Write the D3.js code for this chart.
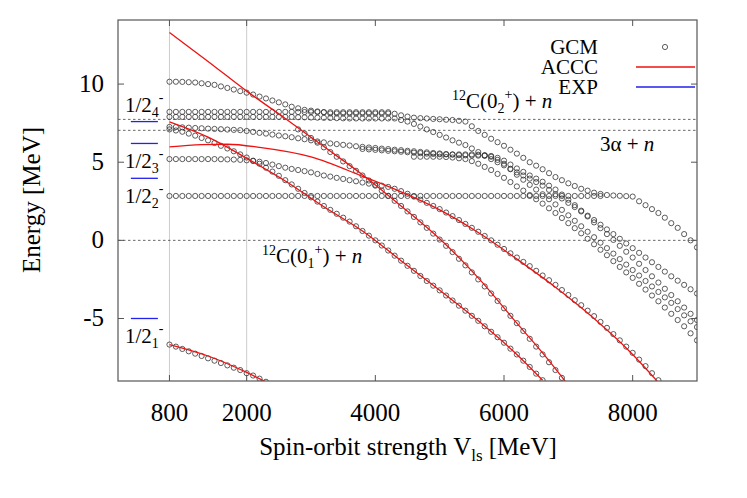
<!DOCTYPE html>
<html><head><meta charset="utf-8">
<script src="https://cdn.jsdelivr.net/npm/d3@7"></script>
<style>body{margin:0;background:#fff}text{font-family:"Liberation Serif","Times New Roman","DejaVu Serif",serif}</style>
</head><body><svg id="c" width="747" height="498" font-family="Liberation Serif, Times New Roman, serif"></svg>
<script>
// ---- data ----
const xTicks=[800,2000,4000,6000,8000];
const yTicks=[-5,0,5,10];
const thresholds=[0,7.04,7.74];
const expLevels=[{e:-5.0,lab:"1",pos:"below"},{e:3.97,lab:"2",pos:"below"},{e:6.2,lab:"3",pos:"below"},{e:7.6,lab:"4",pos:"above"}];
// ACCC knots [V, E]
const acccA=[[800,13.3],[1400,11.45],[2000,9.55],[2600,7.8],[3200,6.0],[3800,4.2],[4400,2.2],[5000,0.1],[5600,-2.4],[6200,-5.3],[6600,-7.2],[6950,-9]];
const acccB=[[800,5.98],[1300,6.12],[1700,6.15],[2200,5.95],[3000,5.34],[3800,4.1],[4400,3.1],[5000,1.95],[5600,0.5],[6200,-1.2],[6800,-3.0],[7400,-5.0],[8000,-7.3],[8380,-9]];
const acccC=[[800,7.58],[1400,6.6],[2000,5.25],[2600,3.8],[3200,2.15],[3800,0.6],[4400,-1.3],[5000,-3.2],[5600,-5.15],[6200,-7.3],[6600,-8.95]];
const acccD=[[800,-6.67],[1400,-7.4],[2000,-8.45],[2320,-9.1]];
// GCM levels, step 100 MeV from given start
const gcmD={start:800,e:[-6.67,-6.8,-6.95,-7.1,-7.25,-7.4,-7.55,-7.7,-7.85,-8.0,-8.15,-8.3,-8.5,-8.65,-8.85,-9.05]};
const gcmC={start:800,e:[7.1,7.03,6.95,6.83,6.7,6.55,6.4,6.23,6.05,5.88,5.7,5.5,5.3,5.1,4.9,4.65,4.4,4.13,3.85,3.58,3.3,3.03,2.75,2.48,2.2,1.95,1.7,1.45,1.2,0.9,0.6,0.3,0.0,-0.33,-0.65,-0.98,-1.3,-1.63,-1.95,-2.28,-2.6,-2.9,-3.2,-3.53,-3.85,-4.18,-4.5,-4.83,-5.15,-5.5,-5.85,-6.2,-6.55,-6.93,-7.3,-7.7,-8.1,-8.53,-8.95]};
const gcmA={start:2800,e:[7.1,6.83,6.55,6.25,5.95,5.65,5.35,5.05,4.75,4.45,4.15,3.83,3.5,3.18,2.85,2.53,2.2,1.85,1.5,1.15,0.8,0.43,0.05,-0.35,-0.75,-1.18,-1.6,-2.05,-2.5,-2.95,-3.4,-3.88,-4.35,-4.83,-5.3,-5.8,-6.3,-6.8,-7.3,-7.8,-8.3,-8.8]};
const gcmB={start:800,e:[5.2,5.2,5.2,5.2,5.2,5.2,5.2,5.2,5.19,5.18,5.17,5.15,5.12,5.08,5.03,4.95,4.85,4.75,4.65,4.57,4.5,4.43,4.35,4.25,4.15,4.08,4.0,3.93,3.85,3.78,3.7,3.63,3.55,3.5,3.42,3.3,3.15,2.98,2.8,2.6,2.4,2.2,2.0,1.78,1.55,1.3,1.05,0.8,0.55,0.28,0.0,-0.28,-0.55,-0.83,-1.1,-1.38,-1.65,-1.95,-2.25,-2.55,-2.85,-3.18,-3.5,-3.83,-4.15,-4.5,-4.85,-5.22,-5.6,-6.0,-6.4,-6.8,-7.2,-7.63,-8.05,-8.5,-8.95]};
const gcmRow={start:800,e:[2.84,2.84,2.84,2.84,2.84,2.84,2.84,2.84,2.84,2.84,2.84,2.84,2.84,2.84,2.84,2.84,2.84,2.84,2.84,2.84,2.84,2.84,2.84,2.84,2.84,2.84,2.84,2.84,2.84,2.84,2.84,2.84,2.84,2.84,2.84,2.84,2.84,2.84,2.84,2.84,2.84,2.84,2.84,2.84,2.84,2.84,2.84,2.84,2.84,2.84,2.84,2.84,2.84,2.84,2.84,2.84,2.84,2.84,2.84,2.84,2.84,2.84,2.84,2.84,2.84,2.84,2.84,2.84]};
const gcmE1={start:800,e:[8.22,8.22,8.22,8.22,8.22,8.22,8.22,8.22,8.22,8.22,8.22,8.22,8.22,8.22,8.22,8.22,8.22,8.22,8.22,8.22,8.21,8.21,8.21,8.21,8.2,8.2,8.2,8.2,8.2,8.2,8.2,8.2,8.2,8.2,8.2,8.1,8.0,7.92,7.85,7.82,7.8,7.77,7.75,7.72,7.7,7.65,7.6,7.3,7.0,6.75,6.5,6.28,6.05,5.8,5.55,5.28,5.0,4.78,4.55,4.3,4.05,3.85,3.65,3.48,3.3,3.18,3.05,2.97,2.9,2.87,2.85,2.83,2.8,2.5,2.25,2.0,1.75,1.45,1.1,0.8,0.4,0.0,-0.45]};
const gcmT={start:800,e:[10.15,10.15,10.14,10.12,10.1,10.05,10.0,9.95,9.85,9.75,9.65,9.55,9.45,9.33,9.2,9.08,8.95,8.83,8.7,8.55,8.45,8.35,8.3,8.25,8.2,8.12,8.12,8.12,8.12,8.12,8.12,8.12,8.12,8.12,8.12]};
const gcmT2={start:800,e:[7.9,7.9,7.9,7.9,7.9,7.9,7.9,7.9,7.9,7.9,7.9,7.9,7.9,7.9,7.9,7.9,7.9,7.9,7.9,7.9,7.88,7.87,7.86,7.85,7.84,7.83,7.82,7.81,7.8,7.8,7.8,7.8,7.8,7.8,7.8,7.8,7.7,7.6,7.45,7.28,7.1,6.93,6.75,6.58,6.4,6.25,6.1,5.88,5.65,5.43,5.2,5.0,4.8,4.58,4.35,4.15,3.95,3.73,3.5,3.23,2.95,2.68,2.4,2.13,1.85,1.58,1.3,1.0,0.7,0.4,0.1,-0.2,-0.5,-0.8,-1.1,-1.4,-1.7,-2.0,-2.3,-2.58,-2.85,-3.13,-3.4]};
const gcmS={start:800,e:[7.26,7.25,7.23,7.21,7.19,7.17,7.15,7.13,7.11,7.09,7.07,7.05,7.0,6.94,6.88,6.83,6.77,6.71,6.66,6.6,6.53,6.47,6.4,6.33,6.27,6.2,6.16,6.11,6.07,6.02,5.98,5.94,5.91,5.87,5.84,5.8,5.77,5.73,5.7,5.66,5.63,5.59,5.56,5.52,5.49,5.45,5.44,5.43,5.42,5.41,5.4,5.28,5.1,4.85,4.6,4.38,4.15,3.95,3.75,3.5,3.25,2.93,2.6,2.25,1.9,1.53,1.15,0.78,0.4,0.03,-0.35,-0.73,-1.1,-1.5,-1.9,-2.3,-2.7,-3.1,-3.5,-3.9,-4.3,-4.7,-5.1]};
const gcmL2={start:3800,e:[5.85,5.82,5.79,5.76,5.73,5.7,5.67,5.64,5.61,5.58,5.55,5.53,5.51,5.5,5.5,5.5,5.5,5.5,5.48,5.45,5.35,5.15,4.9,4.55,4.2,3.88,3.55,3.25,2.95,2.63,2.3,1.95,1.6,1.25,0.9,0.55,0.2,-0.15,-0.5,-0.85,-1.2,-1.55,-1.9,-2.25,-2.6,-2.95,-3.3,-3.65,-4.0,-4.4,-4.8,-5.18,-5.55]};
const gcmL1={start:4600,e:[5.35,5.35,5.35,5.35,5.35,5.33,5.3,5.25,5.2,5.07,4.9,4.7,4.5,4.25,4.0,3.73,3.45,3.18,2.9,2.63,2.35,2.05,1.75,1.43,1.1,0.78,0.45,0.1,-0.25,-0.6,-0.95,-1.33,-1.7,-2.05,-2.4,-2.78,-3.15,-3.53,-3.9,-4.3,-4.7,-5.1,-5.5,-5.95,-6.4]};
const gcmSeries=[gcmD,gcmC,gcmA,gcmB,gcmRow,gcmE1,gcmT,gcmT2,gcmS,gcmL2,gcmL1];

// ---- drawing ----
const svg=d3.select("#c");
const L=118,R=697,T=20,B=381;
const x=d3.scaleLinear().domain([0,9000]).range([L,R]);
const y=d3.scaleLinear().domain([-9,14.1]).range([B,T]);
svg.append("defs").append("clipPath").attr("id","clp").append("rect").attr("x",L).attr("y",T).attr("width",R-L).attr("height",B-T);
svg.selectAll(".g").data([800,2000]).enter().append("line").attr("x1",d=>x(d)).attr("x2",d=>x(d)).attr("y1",T).attr("y2",B).attr("stroke","#ccc").attr("stroke-width",1);
svg.selectAll(".th").data(thresholds).enter().append("line").attr("x1",L).attr("x2",R).attr("y1",d=>y(d)).attr("y2",d=>y(d)).attr("stroke","#444").attr("stroke-width",0.8).attr("stroke-dasharray","2.5,2.5");
const g=svg.append("g").attr("clip-path","url(#clp)");
gcmSeries.forEach(s=>{
  const pts=s.e.map((e,i)=>[s.start+100*i,e]).filter(p=>p[1]>=-9.15);
  g.selectAll(null).data(pts).enter().append("circle").attr("cx",d=>x(d[0])).attr("cy",d=>y(d[1])).attr("r",2.6).attr("fill","none").attr("stroke","#333").attr("stroke-width",0.8);
});
const line=d3.line().x(d=>x(d[0])).y(d=>y(d[1])).curve(d3.curveMonotoneX);
[acccA,acccB,acccC,acccD].forEach(a=>g.append("path").attr("d",line(a)).attr("fill","none").attr("stroke","#ee1111").attr("stroke-width",1.3));
expLevels.forEach(l=>{
  svg.append("line").attr("x1",x(200)).attr("x2",x(620)).attr("y1",y(l.e)).attr("y2",y(l.e)).attr("stroke","#2222ee").attr("stroke-width",1.3);
  const t=svg.append("text").attr("x",125).attr("y",l.pos==="above"?y(l.e)-10:y(l.e)+25).attr("font-size",21);
  t.append("tspan").text("1/2");
  t.append("tspan").attr("font-size",14).attr("dy",5).text(l.lab);
  t.append("tspan").attr("font-size",14).attr("dy",-15).text("-");
});
svg.append("rect").attr("x",L).attr("y",T).attr("width",R-L).attr("height",B-T).attr("fill","none").attr("stroke","#555").attr("stroke-width",1.2);
xTicks.forEach(v=>{
  svg.append("line").attr("x1",x(v)).attr("x2",x(v)).attr("y1",B).attr("y2",B-6).attr("stroke","#555");
  svg.append("line").attr("x1",x(v)).attr("x2",x(v)).attr("y1",T).attr("y2",T+6).attr("stroke","#555");
  svg.append("text").attr("x",x(v)).attr("y",421).attr("text-anchor","middle").attr("font-size",25).text(v);
});
yTicks.forEach(v=>{
  svg.append("line").attr("x1",L).attr("x2",L+6).attr("y1",y(v)).attr("y2",y(v)).attr("stroke","#555");
  svg.append("line").attr("x1",R).attr("x2",R-6).attr("y1",y(v)).attr("y2",y(v)).attr("stroke","#555");
  svg.append("text").attr("x",104).attr("y",y(v)+8).attr("text-anchor","end").attr("font-size",25).text(v);
});
svg.append("text").attr("transform","translate(40,200) rotate(-90)").attr("text-anchor","middle").attr("font-size",25).text("Energy [MeV]");
const xt=svg.append("text").attr("x",408).attr("y",455).attr("text-anchor","middle").attr("font-size",25);
xt.append("tspan").text("Spin-orbit strength V");
xt.append("tspan").attr("font-size",17).attr("dy",6).text("ls");
xt.append("tspan").attr("dy",-6).text(" [MeV]");
const lg=[{t:"GCM",y:47},{t:"ACCC",y:67,c:"#ee1111"},{t:"EXP",y:87,c:"#2222ee"}];
lg.forEach(d=>{
  svg.append("text").attr("x",598).attr("y",d.y+7).attr("text-anchor","end").attr("font-size",21).text(d.t);
  if(d.c) svg.append("line").attr("x1",636).attr("x2",695).attr("y1",d.y).attr("y2",d.y).attr("stroke",d.c).attr("stroke-width",1.3);
  else svg.append("circle").attr("cx",665).attr("cy",d.y).attr("r",2.6).attr("fill","none").attr("stroke","#333").attr("stroke-width",0.8);
});
function ann(xp,yp,sub){
  const t=svg.append("text").attr("x",xp).attr("y",yp).attr("font-size",21);
  t.append("tspan").attr("font-size",14).attr("dy",-8).text("12");
  t.append("tspan").attr("dy",8).text("C(0");
  t.append("tspan").attr("font-size",14).attr("dy",5).text(sub);
  t.append("tspan").attr("font-size",14).attr("dy",-14).text("+");
  t.append("tspan").attr("dy",9).text(") + ");
  t.append("tspan").attr("font-style","italic").text("n");
}
ann(452,108,"2");
ann(262,263,"1");
const ta=svg.append("text").attr("x",600).attr("y",151).attr("font-size",21);
ta.append("tspan").text("3α + ");
ta.append("tspan").attr("font-style","italic").text("n");
</script></body></html>
